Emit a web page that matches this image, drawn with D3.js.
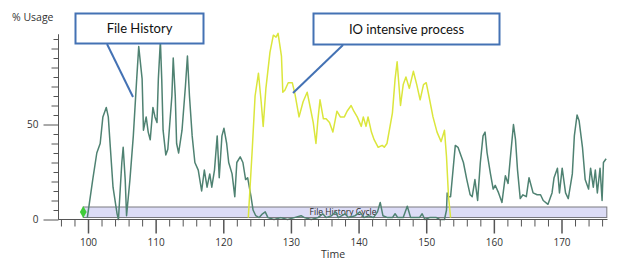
<!DOCTYPE html>
<html>
<head>
<meta charset="utf-8">
<script src="https://cdn.jsdelivr.net/npm/d3@7"></script>
<style>
  body { margin: 0; background: #fff; }
  text { font-family: "Open Sans", sans-serif; fill: #333; }
</style>
</head>
<body>
<script>
// Chart data
const greenTime = [99.9, 100.7, 101.3, 101.8, 102.2, 102.7, 103.0, 103.3, 103.7, 104.3, 104.5, 105.0, 105.2, 105.5, 105.7, 106.2, 106.7, 107.2, 107.5, 108.0, 108.2, 108.6, 108.9, 109.2, 109.6, 109.9, 110.2, 110.4, 110.7, 110.9, 111.1, 111.5, 111.8, 112.4, 112.6, 112.9, 113.1, 113.4, 113.9, 114.4, 114.7, 115.0, 115.4, 115.8, 116.3, 116.8, 117.2, 117.6, 118.0, 118.3, 118.7, 119.1, 119.4, 119.8, 120.1, 120.5, 120.8, 121.3, 121.7, 122.0, 122.5, 122.9, 123.3, 123.6, 124.1, 124.4, 124.8,
  125.3, 125.8, 126.2, 126.6, 127.5, 128.5, 129.5, 130.5, 131.5, 132.0, 133.0, 134.0, 134.7, 135.2, 136.0, 136.6, 137.0, 138.0, 138.5, 139.5, 140.2, 140.8, 141.5, 142.2, 142.8, 143.2, 143.6, 144.3, 145.0, 145.4, 145.8, 146.6, 147.2, 147.7, 148.5, 149.0, 149.4, 149.8, 150.5, 151.5, 152.0, 152.7, 153.0,
  153.1, 153.3, 153.6, 154.3, 154.7, 155.5, 156.0, 156.5, 156.8, 157.2, 157.6, 158.0, 158.4, 158.7, 159.0, 159.5, 159.9, 160.2, 160.7, 161.2, 161.7, 162.1, 162.4, 162.9, 163.2, 163.5, 163.9, 164.3, 164.8, 165.2, 165.8, 166.4, 166.9, 167.3, 168.0, 168.6, 168.9, 169.4, 169.7, 170.1, 170.6, 171.0, 171.6, 171.9, 172.3, 172.6, 173.1, 173.5, 174.0, 174.3, 174.7, 175.0, 175.3, 175.7, 176.0, 176.2, 176.6];
const greenUsage = [1, 21, 35, 40, 54, 59, 54, 38, 17, 3, 0, 30, 38, 21, 2, 21, 44, 74, 91, 74, 47, 54, 46, 42, 59, 54, 51, 74, 94, 74, 47, 34, 37, 65, 85, 65, 40, 35, 47, 70, 86, 65, 44, 30, 26, 15, 26, 17, 24, 17, 26, 44, 22, 44, 48, 40, 30, 24, 12, 30, 33, 30, 21, 22, 12, 5, 2,
  1, 3, 4, 1, 0, 1, 0, 1, 2, 1, 0, 1, 3, 1, 2, 4, 1, 3, 1, 2, 4, 1, 2, 1, 4, 9, 2, 1, 1, 3, 1, 1, 7, 1, 1, 1, 3, 0, 1, 1, 0, 0, 5,
  14, 12, 12, 39, 38, 30, 21, 13, 12, 21, 10, 30, 44, 46, 35, 24, 16, 18, 14, 9, 23, 19, 31, 50, 42, 26, 11, 13, 12, 22, 14, 13, 13, 10, 8, 14, 22, 27, 14, 27, 14, 11, 24, 44, 55, 52, 38, 21, 16, 27, 17, 26, 14, 27, 10, 30, 32];

const yellowTime = [123.7, 124.3, 124.7, 125.2, 125.6, 125.9, 126.3, 126.9, 127.4, 127.8, 128.1, 128.6, 128.8, 129.1, 129.6, 130.2, 130.6, 131.2, 131.8, 132.4, 132.8, 133.3, 133.7, 134.0, 134.3, 134.8, 135.2, 135.7, 136.2, 136.8, 137.3, 137.9, 138.3, 138.9, 139.3, 139.8, 140.4, 140.7, 141.1, 141.4, 141.9, 142.3, 142.9, 143.5, 143.8, 144.2, 145.0, 145.4, 145.7, 146.2, 146.6, 147.0, 147.5, 148.1, 148.6, 149.1, 149.6, 150.0, 150.4, 151.0, 151.6, 152.2, 152.7, 153.0, 153.3, 153.6];
const yellowUsage = [1, 38, 65, 77, 62, 49, 69, 88, 97, 96, 98, 86, 67, 68, 72, 72, 66, 54, 62, 67, 60, 51, 40, 53, 63, 53, 53, 51, 46, 57, 54, 54, 57, 60, 57, 54, 49, 54, 49, 54, 46, 42, 38, 39, 38, 40, 56, 74, 83, 60, 71, 75, 69, 78, 71, 63, 71, 72, 65, 54, 46, 41, 47, 33, 12, 1];

const xTickLabels = [100, 110, 120, 130, 140, 150, 160, 170];
const yTickLabels = [0, 50];

// SVG Canvas
const width = 620;
const height = 262;

const x = d3.scaleLinear().domain([100, 170]).range([88, 561.5]);
const y = d3.scaleLinear().domain([0, 100]).range([219.5, 29.5]);

const svg = d3.select('body')
  .append('svg')
    .attr('width', width)
    .attr('height', height);

// File History Cycle band
const bandX0 = x(99.3), bandX1 = x(176.7);
svg.append('rect')
    .attr('x', bandX0)
    .attr('y', 207)
    .attr('width', bandX1 - bandX0)
    .attr('height', 10.5)
    .attr('fill', '#dcdcf6')
    .attr('stroke', '#7a7a80')
    .attr('stroke-width', 1);

svg.append('text')
    .attr('x', 343)
    .attr('y', 215)
    .attr('text-anchor', 'middle')
    .style('font-size', '8.5px')
    .style('fill', '#2a2a2a')
    .text('File History Cycle');

// Lines
const line = d3.line()
  .x((d) => x(d[0]))
  .y((d) => y(d[1]));

svg.append('path')
    .datum(d3.zip(greenTime, greenUsage))
    .attr('fill', 'none')
    .attr('stroke', '#4f8272')
    .attr('stroke-width', 1.5)
    .attr('stroke-linejoin', 'round')
    .attr('d', line);

svg.append('path')
    .datum(d3.zip(yellowTime, yellowUsage))
    .attr('fill', 'none')
    .attr('stroke', '#dbe63c')
    .attr('stroke-width', 1.5)
    .attr('stroke-linejoin', 'round')
    .attr('d', line);

// Green marker
svg.append('path')
    .attr('d', d3.symbol(d3.symbolDiamond, 40))
    .attr('transform', `translate(${x(99.3)},212)`)
    .attr('fill', '#3fcc3a');

// Y axis
const yAxis = svg.append('g')
    .attr('transform', 'translate(58.5,0)')
    .call(d3.axisLeft(y)
      .tickValues(d3.range(0, 100, 5))
      .tickSizeOuter(0)
      .tickFormat((d) => yTickLabels.includes(d) ? d : ''));
yAxis.select('.domain').attr('d', `M0,${y(0)}V${y(97.5)}`).attr('stroke', '#555');
yAxis.selectAll('.tick line')
    .attr('stroke', '#555')
    .attr('x2', (d) => yTickLabels.includes(d) ? -15 : (d % 10 === 0 ? -7 : -5));
yAxis.selectAll('.tick text')
    .attr('x', -20)
    .style('font-size', '10px')
    .style('fill', '#333');

// X axis
const xAxis = svg.append('g')
    .attr('transform', `translate(0,${y(0)})`)
    .call(d3.axisBottom(x)
      .tickValues(d3.range(96, 177, 2))
      .tickSizeOuter(0)
      .tickFormat((d) => xTickLabels.includes(d) ? d : ''));
xAxis.select('.domain').attr('d', `M${x(95.6)},0H${x(176.8)}`).attr('stroke', '#555');
xAxis.selectAll('.tick line')
    .attr('stroke', '#555')
    .attr('stroke-width', (d) => xTickLabels.includes(d) ? 1.5 : 1)
    .attr('y2', (d) => xTickLabels.includes(d) ? 14 : 7);
xAxis.selectAll('.tick text')
    .attr('y', 19)
    .style('font-size', '10px')
    .style('fill', '#333');

// Axis titles
svg.append('text')
    .attr('x', 12)
    .attr('y', 21)
    .style('font-size', '10.5px')
    .text('% Usage');

svg.append('text')
    .attr('x', 321)
    .attr('y', 258)
    .style('font-size', '10.5px')
    .text('Time');

// Callouts
const callouts = [
  { x: 75.5, y: 13.5, w: 128, h: 30, text: 'File History', lx1: 107, ly1: 44, lx2: 133, ly2: 97 },
  { x: 313.5, y: 13.5, w: 186, h: 31, text: 'IO intensive process', lx1: 343, ly1: 45, lx2: 293, ly2: 93 },
];

const co = svg.selectAll('g.callout')
    .data(callouts)
  .enter().append('g')
    .attr('class', 'callout');

co.append('line')
    .attr('x1', (d) => d.lx1)
    .attr('y1', (d) => d.ly1)
    .attr('x2', (d) => d.lx2)
    .attr('y2', (d) => d.ly2)
    .attr('stroke', '#4472b4')
    .attr('stroke-width', 2);

co.append('rect')
    .attr('x', (d) => d.x)
    .attr('y', (d) => d.y)
    .attr('width', (d) => d.w)
    .attr('height', (d) => d.h)
    .attr('fill', '#fff')
    .attr('stroke', '#4472b4')
    .attr('stroke-width', 2);

co.append('text')
    .attr('x', (d) => d.x + d.w / 2)
    .attr('y', (d) => d.y + d.h / 2 + 4.5)
    .attr('text-anchor', 'middle')
    .style('font-family', 'Lato, sans-serif')
    .style('font-size', '13px')
    .style('fill', '#111')
    .text((d) => d.text);
</script>
</body>
</html>
